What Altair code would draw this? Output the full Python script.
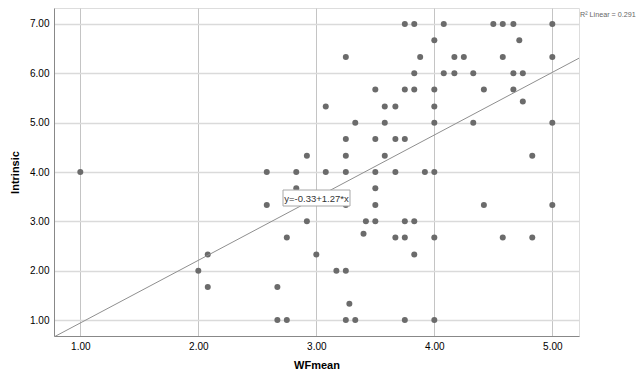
import altair as alt
import pandas as pd

# WFmean (x) and Intrinsic (y) values
wf_mean = [
    1.00, 2.00, 2.08, 2.08, 2.58, 2.58, 2.67, 2.67, 2.75, 2.75,
    2.83, 2.83, 2.92, 2.92, 3.00, 3.08, 3.08, 3.17, 3.25, 3.25,
    3.25, 3.25, 3.25, 3.25, 3.25, 3.28, 3.33, 3.33, 3.40, 3.42,
    3.50, 3.50, 3.50, 3.50, 3.50, 3.50, 3.58, 3.58, 3.58, 3.67,
    3.67, 3.67, 3.67, 3.75, 3.75, 3.75, 3.75, 3.75, 3.75, 3.83,
    3.83, 3.83, 3.83, 3.83, 3.88, 3.92, 4.00, 4.00, 4.00, 4.00,
    4.00, 4.00, 4.00, 4.08, 4.08, 4.17, 4.17, 4.25, 4.33, 4.33,
    4.42, 4.42, 4.50, 4.58, 4.58, 4.58, 4.67, 4.67, 4.67, 4.72,
    4.75, 4.75, 4.83, 4.83, 5.00, 5.00, 5.00, 5.00,
]
intrinsic = [
    4.00, 2.00, 2.33, 1.67, 4.00, 3.33, 1.67, 1.00, 2.67, 1.00,
    4.00, 3.67, 4.33, 3.00, 2.33, 5.33, 4.00, 2.00, 6.33, 4.67,
    4.33, 4.00, 3.33, 2.00, 1.00, 1.33, 5.00, 1.00, 2.75, 3.00,
    5.67, 4.67, 4.00, 3.67, 3.33, 3.00, 5.33, 5.00, 4.33, 5.33,
    4.67, 4.00, 2.67, 7.00, 5.67, 4.67, 3.00, 2.67, 1.00, 7.00,
    6.00, 5.67, 3.00, 2.33, 6.33, 4.00, 6.67, 5.67, 5.33, 5.00,
    4.00, 2.67, 1.00, 7.00, 6.00, 6.33, 6.00, 6.33, 6.00, 5.00,
    5.67, 3.33, 7.00, 7.00, 6.33, 2.67, 7.00, 6.00, 5.67, 6.67,
    6.00, 5.43, 4.33, 2.67, 7.00, 6.33, 5.00, 3.33,
]

x_ticks = [1, 2, 3, 4, 5]
y_ticks = [1, 2, 3, 4, 5, 6, 7]
x_domain = [0.777, 5.226]
y_domain = [0.676, 7.324]

intercept = -0.33
slope = 1.27
equation_label = "y=-0.33+1.27*x"
r2_label = "R\u00b2 Linear = 0.291"

pts = pd.DataFrame({"WFmean": wf_mean, "Intrinsic": intrinsic})
fit = pd.DataFrame({"WFmean": x_domain,
                    "Intrinsic": [intercept + slope * v for v in x_domain]})

W, H = 525, 328
FONT = "Liberation Sans"

xs = alt.Scale(domain=x_domain, nice=False, zero=False)
ys = alt.Scale(domain=y_domain, nice=False, zero=False)

x_axis = alt.Axis(values=x_ticks, format=".2f", title="WFmean", ticks=False,
                  tickSize=0, labelPadding=5, titlePadding=8,
                  gridColor="#c4c4c4", gridWidth=1)
y_axis = alt.Axis(values=y_ticks, format=".2f", title="Intrinsic", ticks=False,
                  tickSize=0, labelPadding=5, titlePadding=9,
                  gridColor="#dadada", gridWidth=1.5)

points = alt.Chart(pts).mark_circle(size=36, color="#6b6b6b", opacity=1).encode(
    x=alt.X("WFmean:Q", scale=xs, axis=x_axis),
    y=alt.Y("Intrinsic:Q", scale=ys, axis=y_axis),
)

line = alt.Chart(fit).mark_line(color="#8f8f8f", strokeWidth=1, clip=True).encode(
    x=alt.X("WFmean:Q", scale=xs),
    y=alt.Y("Intrinsic:Q", scale=ys),
)

box = alt.Chart(pd.DataFrame({"t": [equation_label]})).mark_rect(
    fill="white", stroke="#a8a8a8", strokeWidth=1
).encode(x=alt.value(229), x2=alt.value(296), y=alt.value(182), y2=alt.value(198))

eq_text = alt.Chart(pd.DataFrame({"t": [equation_label]})).mark_text(
    font=FONT, fontSize=9.5, color="#333333", align="center", baseline="middle"
).encode(text="t:N", x=alt.value(262.5), y=alt.value(190.5))

r2_text = alt.Chart(pd.DataFrame({"t": [r2_label]})).mark_text(
    font=FONT, fontSize=7.2, color="#666666", align="left", baseline="middle"
).encode(text="t:N", x=alt.value(526), y=alt.value(7))

chart = alt.layer(points, line, box, eq_text, r2_text).properties(
    width=W, height=H,
    autosize=alt.AutoSizeParams(type="none"),
    padding={"left": 46, "top": 0, "right": 57, "bottom": 37},
).configure_view(stroke=None).configure_axis(
    labelFont=FONT, labelFontSize=8.3, labelColor="#333333",
    titleFont=FONT, titleFontSize=12, titleFontWeight="bold", titleColor="#111111",
    domainColor="#9a9a9a", domainWidth=1.5,
).configure(background="white")

chart.save("out.html", embed_options={"renderer": "svg", "actions": False})
